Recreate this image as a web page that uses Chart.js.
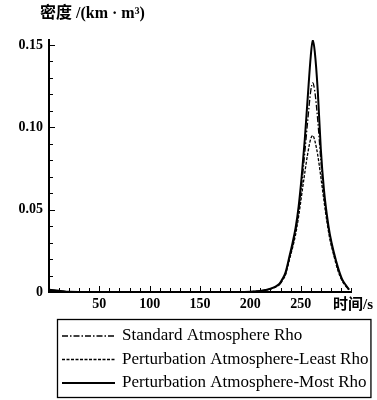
<!DOCTYPE html>
<html>
<head>
<meta charset="utf-8">
<script src="https://cdn.jsdelivr.net/npm/chart.js@4.4.1/dist/chart.umd.min.js"></script>
<style>
    html, body { margin: 0; padding: 0; background: #fff; }
    #wrap { width: 377px; height: 400px; position: relative; }
</style>
</head>
<body>
<div id="wrap"><canvas id="chart"></canvas></div>
<script>
// ---- data ----
const TIME = [0, 10, 20, 30, 60, 100, 150, 190, 200, 210, 215, 220, 225, 229, 232, 235, 239, 242, 245, 248,
    251, 254, 257, 260, 262, 264, 267, 270, 273, 276, 279, 283, 287, 291, 295, 298];

const RHO_STANDARD = [0.0012, 0.0006, 0.0001, 0, 0, 0, 0, 0, 0.0002, 0.0006, 0.0011, 0.0019, 0.0031, 0.0047, 0.0075, 0.011, 0.021, 0.028, 0.037, 0.049,
    0.065, 0.084, 0.104, 0.122, 0.127, 0.122, 0.104, 0.080, 0.060, 0.045, 0.034, 0.023, 0.014, 0.0075, 0.0037, 0.0014];

const RHO_LEAST = [0.0012, 0.0006, 0.0001, 0, 0, 0, 0, 0, 0.0002, 0.0005, 0.001, 0.0018, 0.003, 0.0045, 0.007, 0.0105, 0.020, 0.027, 0.035, 0.046,
    0.059, 0.072, 0.084, 0.093, 0.095, 0.092, 0.083, 0.070, 0.056, 0.043, 0.032, 0.022, 0.013, 0.007, 0.0035, 0.0013];

const RHO_MOST = [0.0013, 0.0007, 0.0001, 0, 0, 0, 0, 0, 0.0002, 0.0006, 0.0012, 0.002, 0.0033, 0.005, 0.008, 0.012, 0.022, 0.030, 0.039, 0.052,
    0.070, 0.092, 0.118, 0.143, 0.153, 0.146, 0.122, 0.087, 0.063, 0.047, 0.035, 0.024, 0.015, 0.008, 0.004, 0.0015];

const SERIES_NAMES = [
    'Standard Atmosphere Rho',
    'Perturbation Atmosphere-Least Rho',
    'Perturbation Atmosphere-Most Rho',
];

const X_LABELS = [50, 100, 150, 200, 250];
const Y_LABELS = [0, 0.05, 0.10, 0.15];
const Y_TITLE = '密度 /(km · m³)';
const X_TITLE = '时间/s';

const SERIF = "'Liberation Serif', 'DejaVu Serif', 'Noto Sans CJK SC', serif";

function toPoints(values) {
    return TIME.map((t, i) => ({ x: t, y: values[i] }));
}

const near = (v, list, eps) => list.some(l => Math.abs(l - v) < eps);

// ---- plugin: inward tick marks, axis titles, boxed legend ----
const decorPlugin = {
    id: 'decor',
    afterDraw(chart) {
        const { ctx, chartArea, scales } = chart;
        const xs = scales.x, ys = scales.y;
        ctx.save();
        ctx.strokeStyle = '#000';
        ctx.lineWidth = 1;

        // x ticks pointing up
        xs.ticks.forEach(tk => {
            const px = Math.round(xs.getPixelForValue(tk.value)) + 0.5;
            const len = near(tk.value, X_LABELS, 0.01) ? 6 : 4;
            ctx.beginPath();
            ctx.moveTo(px, chartArea.bottom);
            ctx.lineTo(px, chartArea.bottom - len);
            ctx.stroke();
        });
        // y ticks pointing right
        ys.ticks.forEach(tk => {
            const py = Math.round(ys.getPixelForValue(tk.value)) + 0.5;
            const len = near(tk.value, Y_LABELS, 1e-6) ? 6 : 4;
            ctx.beginPath();
            ctx.moveTo(chartArea.left, py);
            ctx.lineTo(chartArea.left + len, py);
            ctx.stroke();
        });

        // axis titles
        ctx.fillStyle = '#000';
        ctx.textBaseline = 'middle';
        ctx.textAlign = 'left';
        ctx.font = "bold 16px " + SERIF;
        ctx.fillText(Y_TITLE, 40, 14);
        ctx.font = "bold 15px " + SERIF;
        ctx.fillText(X_TITLE, 333, 305);

        // legend box
        const lx = 57, ly = 319, rowH = 23.5;
        ctx.font = "17px " + SERIF;
        let maxW = 0;
        chart.data.datasets.forEach(ds => { maxW = Math.max(maxW, ctx.measureText(ds.label).width); });
        const textX = lx + 65;
        const boxR = textX + maxW + 2;
        ctx.lineWidth = 1.3;
        ctx.strokeRect(lx + 0.5, ly + 0.5, boxR - lx, 78);

        chart.data.datasets.forEach((ds, i) => {
            const cy = ly + 17 + i * rowH;
            ctx.save();
            ctx.lineWidth = ds.borderWidth;
            ctx.setLineDash(ds.borderDash || []);
            ctx.beginPath();
            ctx.moveTo(lx + 5, cy);
            ctx.lineTo(lx + 58, cy);
            ctx.stroke();
            ctx.restore();
            ctx.fillText(ds.label, textX, cy);
        });
        ctx.restore();
    },
};

const ctx = document.getElementById('chart').getContext('2d');
new Chart(ctx, {
    type: 'line',
    data: {
        datasets: [
            {
                label: SERIES_NAMES[0],
                data: toPoints(RHO_STANDARD),
                borderColor: '#000',
                borderWidth: 1.3,
                borderDash: [6, 2, 1.5, 2],
            },
            {
                label: SERIES_NAMES[1],
                data: toPoints(RHO_LEAST),
                borderColor: '#000',
                borderWidth: 1.3,
                borderDash: [3, 1.5],
            },
            {
                label: SERIES_NAMES[2],
                data: toPoints(RHO_MOST),
                borderColor: '#000',
                borderWidth: 2,
                borderDash: [],
            },
        ],
    },
    options: {
        responsive: true,
        maintainAspectRatio: false,
        animation: false,
        layout: { padding: { left: 0, right: 26, top: 40, bottom: 88 } },
        elements: {
            point: { radius: 0 },
            line: { cubicInterpolationMode: 'monotone', fill: false },
        },
        scales: {
            x: {
                type: 'linear',
                min: 0,
                max: 300,
                grid: { display: false, drawTicks: false },
                border: { display: true, color: '#000', width: 2 },
                ticks: {
                    stepSize: 10,
                    padding: 4,
                    maxRotation: 0,
                    autoSkip: false,
                    color: '#000',
                    font: { family: SERIF, size: 14, weight: 'bold' },
                    callback: (v) => near(v, X_LABELS, 0.01) ? String(v) : '',
                },
                afterFit: (scale) => { scale.height = 20; },
            },
            y: {
                min: 0,
                max: 0.153,
                grid: { display: false, drawTicks: false },
                border: { display: true, color: '#000', width: 2 },
                ticks: {
                    stepSize: 0.01,
                    includeBounds: false,
                    padding: 6,
                    autoSkip: false,
                    color: '#000',
                    font: { family: SERIF, size: 14, weight: 'bold' },
                    callback: (v) => {
                        if (!near(v, Y_LABELS, 1e-6)) return '';
                        return v === 0 ? '0' : v.toFixed(2);
                    },
                },
                afterFit: (scale) => { scale.width = 49; },
            },
        },
        plugins: {
            legend: { display: false },
            tooltip: { enabled: false },
        },
    },
    plugins: [decorPlugin],
});
</script>
</body>
</html>
